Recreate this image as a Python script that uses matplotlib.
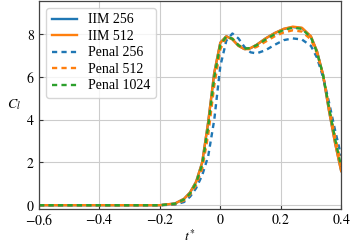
import matplotlib
matplotlib.use('Agg')
import matplotlib.pyplot as plt

plt.rcParams['font.family'] = 'serif'
plt.rcParams['font.serif'] = ['Liberation Serif', 'DejaVu Serif']
plt.rcParams['mathtext.fontset'] = 'stix'
plt.rcParams['font.size'] = 10

t = [-0.6, -0.3, -0.2, -0.15, -0.12, -0.1, -0.08, -0.06, -0.04, -0.02, 0.0, 0.02, 0.04,
     0.06, 0.08, 0.10, 0.12, 0.15, 0.18, 0.21, 0.24, 0.27, 0.30, 0.32, 0.34, 0.36, 0.38, 0.40]

iim_256 = [0, 0, 0.0, 0.08, 0.3, 0.6, 1.1, 2.0, 3.9, 6.2, 7.6, 7.9, 7.76,
           7.46, 7.3, 7.34, 7.5, 7.8, 8.05, 8.24, 8.33, 8.28, 7.88, 7.2, 6.1, 4.4, 2.9, 1.6]
iim_512 = [0, 0, 0.0, 0.08, 0.3, 0.6, 1.1, 2.0, 3.9, 6.2, 7.6, 7.9, 7.75,
           7.45, 7.3, 7.35, 7.5, 7.8, 8.05, 8.25, 8.35, 8.3, 7.9, 7.2, 6.1, 4.4, 2.9, 1.6]
penal_256 = [0, 0, 0.0, 0.03, 0.15, 0.4, 0.8, 1.4, 2.3, 4.0, 6.5, 7.7, 8.03,
             7.8, 7.4, 7.15, 7.1, 7.25, 7.5, 7.72, 7.8, 7.75, 7.45, 6.9, 6.0, 4.8, 3.5, 2.3]
penal_512 = [0, 0, 0.0, 0.05, 0.22, 0.5, 0.95, 1.7, 3.3, 5.6, 7.3, 7.85, 7.8,
             7.5, 7.3, 7.3, 7.4, 7.65, 7.9, 8.08, 8.18, 8.12, 7.75, 7.1, 6.1, 4.6, 3.2, 1.9]
penal_1024 = [0, 0, 0.0, 0.07, 0.27, 0.55, 1.05, 1.9, 3.7, 6.0, 7.5, 7.9, 7.78,
              7.48, 7.32, 7.35, 7.48, 7.75, 8.0, 8.2, 8.3, 8.25, 7.85, 7.15, 6.1, 4.55, 3.1, 1.8]

fig = plt.figure(figsize=(3.55, 2.48), dpi=100)
ax = fig.add_axes([0.110, 0.157, 0.851, 0.839])

dash = (0, (2.2, 1.8))
ax.plot(t, iim_256, color='#1f77b4', lw=1.7, label='IIM 256')
ax.plot(t, iim_512, color='#ff7f0e', lw=1.7, label='IIM 512')
ax.plot(t, penal_256, color='#1f77b4', lw=1.7, ls=dash, label='Penal 256')
ax.plot(t, penal_512, color='#ff7f0e', lw=1.7, ls=dash, label='Penal 512')
ax.plot(t, penal_1024, color='#2ca02c', lw=1.7, ls=dash, label='Penal 1024')

ax.set_xlim(-0.6, 0.4)
ax.set_ylim(-0.18, 9.55)
ax.set_xticks([-0.6, -0.4, -0.2, 0, 0.2, 0.4])
ax.set_xticklabels(['$-0.6$', '$-0.4$', '$-0.2$', '$0$', '$0.2$', '$0.4$'])
ax.set_yticks([0, 2, 4, 6, 8])
ax.set_yticklabels(['$0$', '$2$', '$4$', '$6$', '$8$'])
ax.tick_params(direction='in', length=3, width=0.8, colors='#333333', labelcolor='black', pad=3)
ax.grid(True, color='#cccccc', lw=0.8)
ax.set_axisbelow(True)
for s in ax.spines.values():
    s.set_color('#444444')
    s.set_linewidth(0.9)

ax.set_xlabel('$t^{*}$', labelpad=0)
ax.set_ylabel('$C_l$', rotation=0, va='center', labelpad=9)

ax.legend(loc='upper left', fontsize=10, handlelength=1.8, labelspacing=0.25,
          borderaxespad=0.5, borderpad=0.4, framealpha=0.8, edgecolor='#cccccc', fancybox=True)

fig.savefig('out.png', dpi=100)
